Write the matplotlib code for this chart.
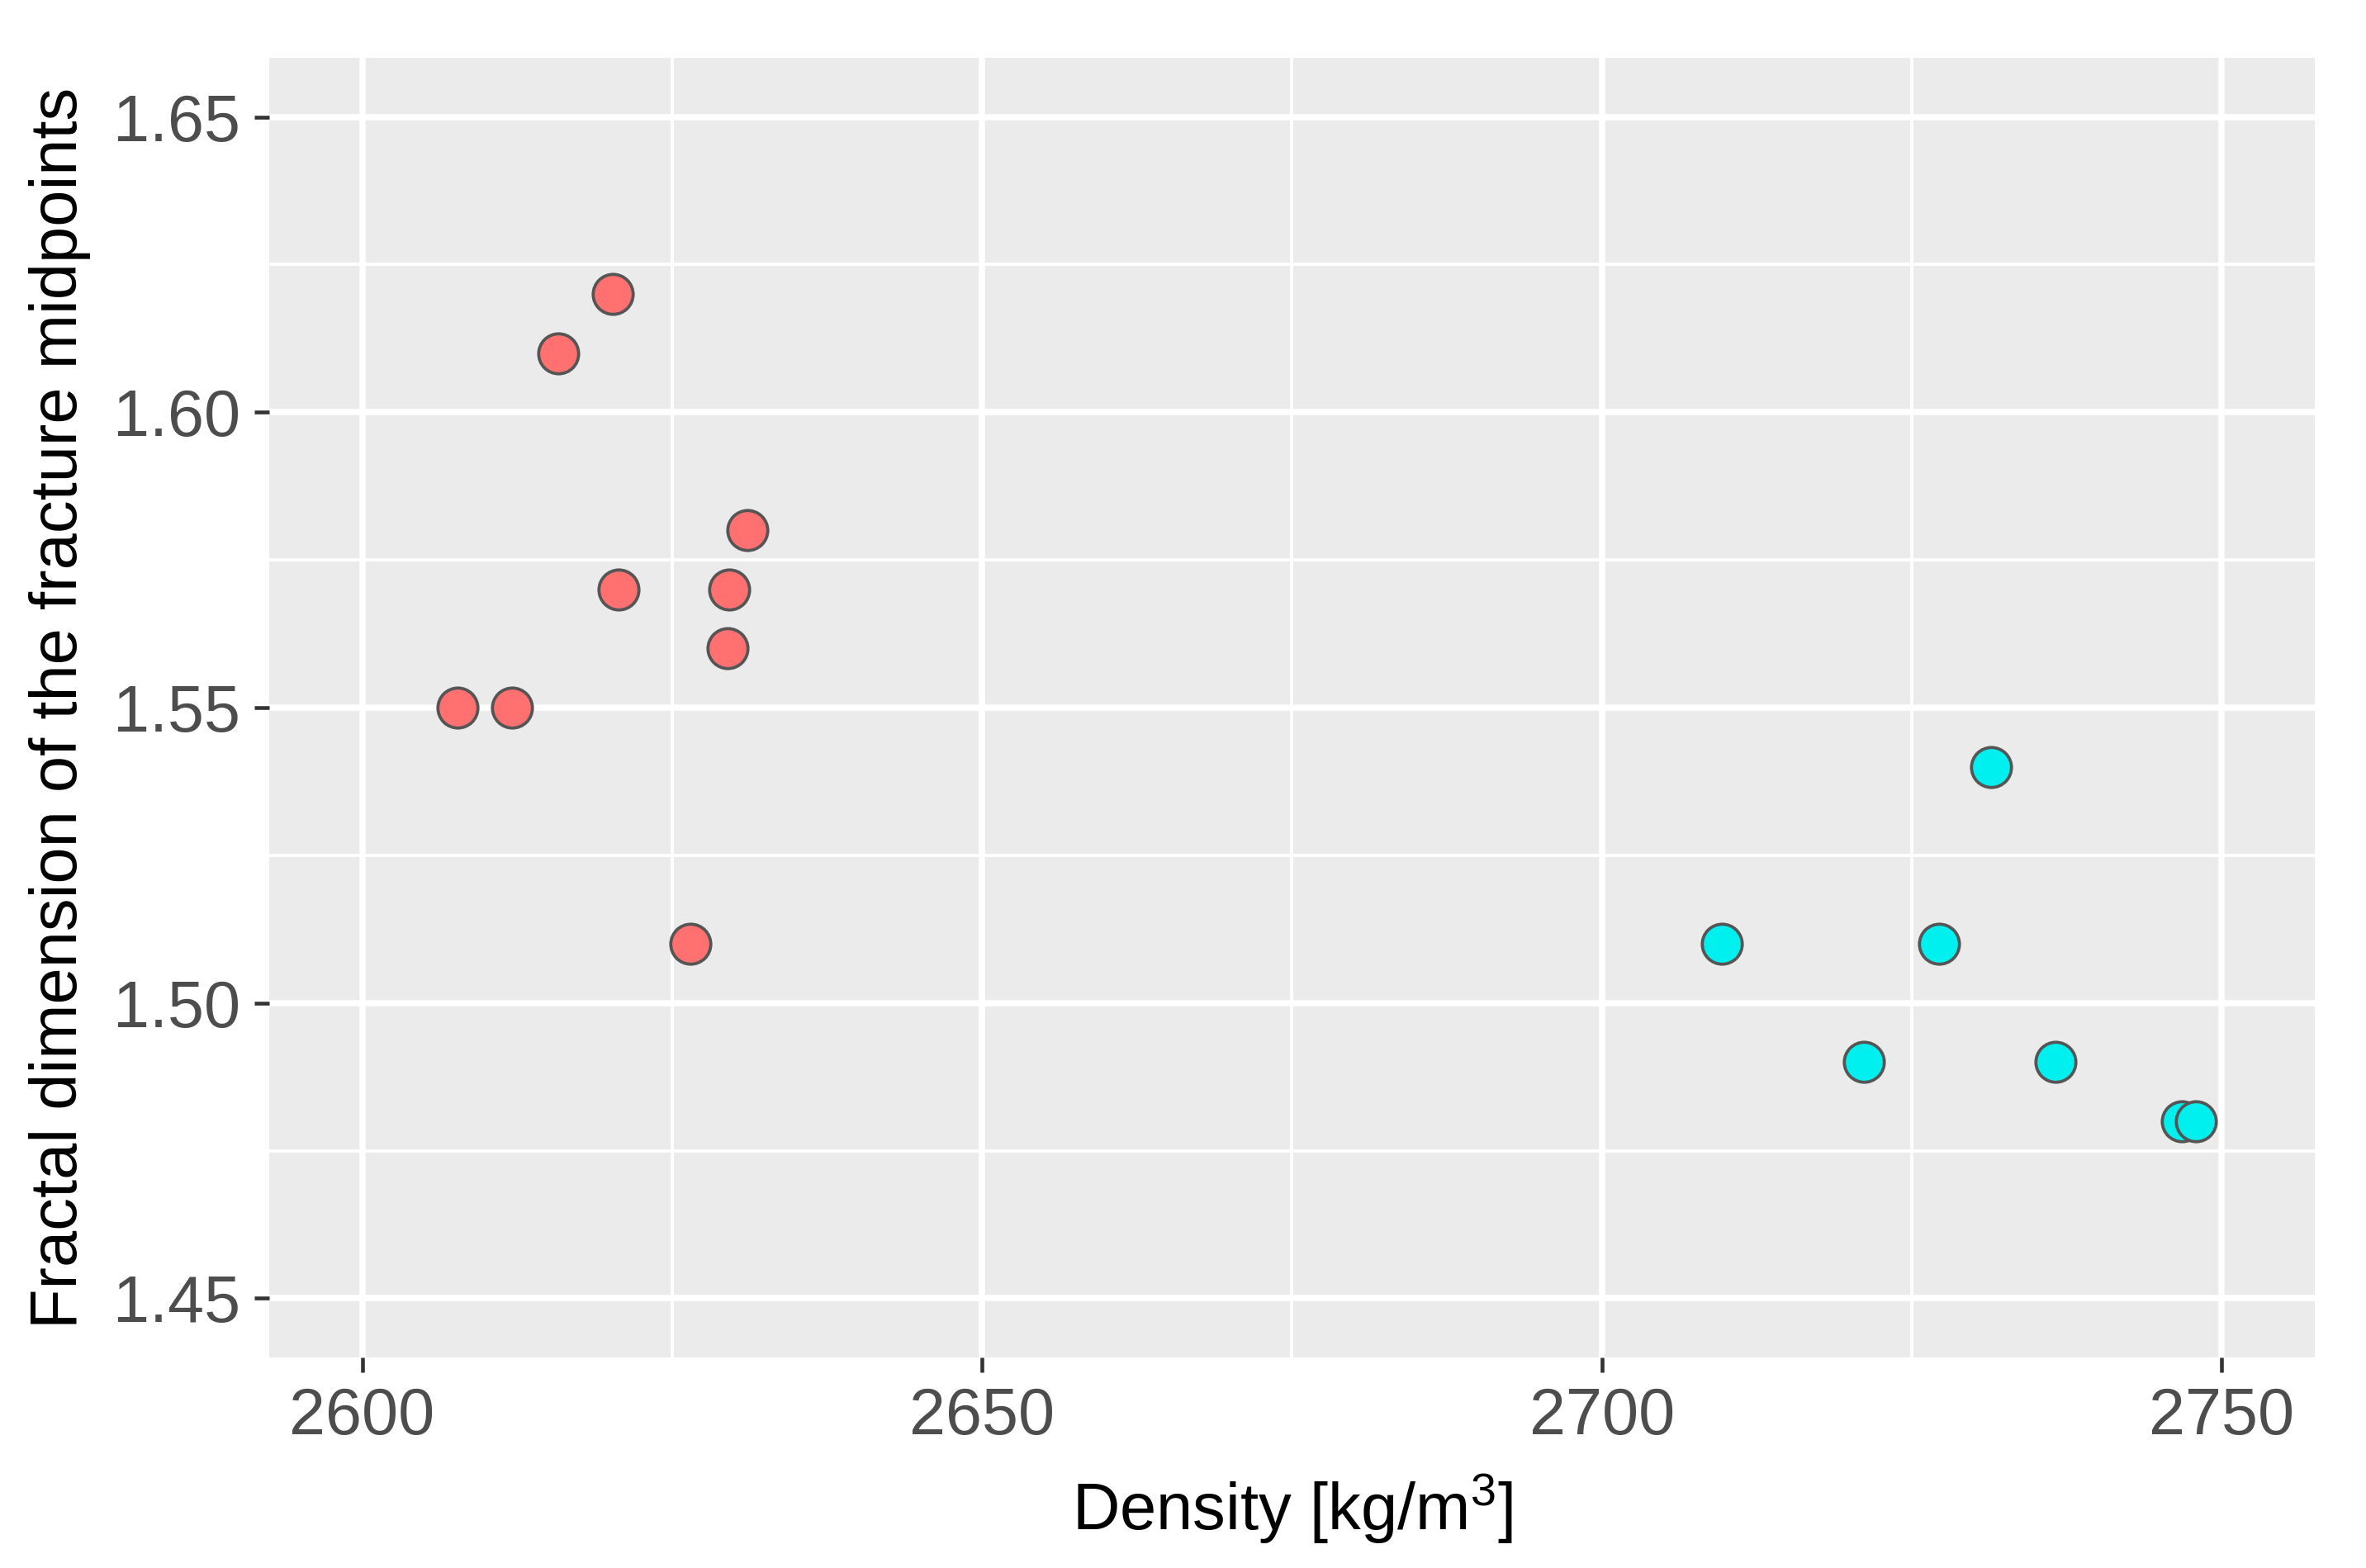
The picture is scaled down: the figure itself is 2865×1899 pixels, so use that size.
import matplotlib
matplotlib.use("Agg")
import matplotlib.pyplot as plt
from matplotlib.ticker import MultipleLocator

plt.rcParams['font.family'] = ['Liberation Sans', 'DejaVu Sans']
plt.rcParams['mathtext.fontset'] = 'custom'
plt.rcParams['mathtext.rm'] = 'Liberation Sans'
plt.rcParams['mathtext.it'] = 'Liberation Sans'

# Data
group_a_density = [2607.7, 2612.1, 2615.8, 2620.2, 2620.7, 2626.5, 2629.5, 2629.6, 2631.1]
group_a_fractal = [1.55, 1.55, 1.61, 1.62, 1.57, 1.51, 1.56, 1.57, 1.58]
group_b_density = [2709.7, 2721.1, 2727.2, 2731.4, 2736.6, 2746.8, 2747.9]
group_b_fractal = [1.51, 1.49, 1.51, 1.54, 1.49, 1.48, 1.48]

x_ticks = [2600, 2650, 2700, 2750]
y_ticks = [1.45, 1.50, 1.55, 1.60, 1.65]
x_label = r'Density [kg/m$^\mathrm{3}$]'
y_label = 'Fractal dimension of the fracture midpoints'

fig = plt.figure(figsize=(2865 / 300, 1899 / 300), dpi=300)
ax = fig.add_axes([326 / 2865, 1 - 1644 / 1899, (2803 - 326) / 2865, (1644 - 70) / 1899])

ax.set_facecolor('#EBEBEB')
for s in ax.spines.values():
    s.set_visible(False)

ax.set_xlim(2592.5, 2757.5)
ax.set_ylim(1.44, 1.66)
ax.set_xticks(x_ticks)
ax.set_yticks(y_ticks)
ax.set_yticklabels([f'{v:.2f}' for v in y_ticks])
ax.xaxis.set_minor_locator(MultipleLocator(25))
ax.yaxis.set_minor_locator(MultipleLocator(0.025))

ax.grid(True, which='major', color='white', linewidth=1.8, zorder=0)
ax.grid(True, which='minor', color='white', linewidth=0.9, zorder=0)
ax.set_axisbelow(True)

ax.tick_params(which='major', length=4.3, width=1.1, color='#333333',
               labelsize=19, labelcolor='#4D4D4D', pad=4)
ax.tick_params(which='minor', length=0)

ax.scatter(group_a_density, group_a_fractal, s=135, facecolor='#FF7070',
           edgecolor='#555555', linewidth=0.9, zorder=3)
ax.scatter(group_b_density, group_b_fractal, s=135, facecolor='#00F0F0',
           edgecolor='#555555', linewidth=0.9, zorder=3)

ax.set_xlabel(x_label, fontsize=19.1, color='black', labelpad=7)
ax.set_ylabel(y_label, fontsize=19.1, color='black', labelpad=6.5)

fig.savefig('out.png', dpi=300, facecolor='white')
